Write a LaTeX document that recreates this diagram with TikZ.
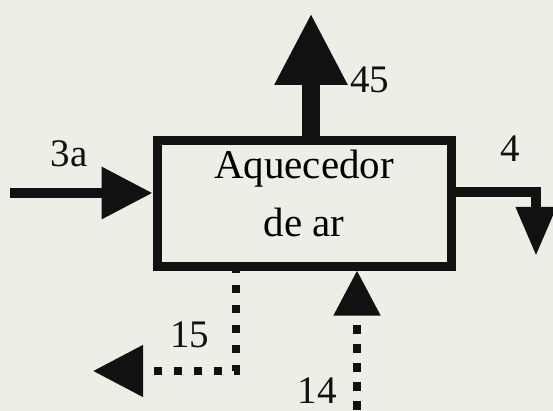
\documentclass[tikz,border=0pt]{standalone}
\usepackage{fontspec}
\setmainfont{Liberation Serif}
\usepackage{xcolor}
\usepackage{tikz}
\usetikzlibrary{arrows.meta,positioning,calc}
\definecolor{paperbg}{HTML}{EDEFE7}
\definecolor{inkblack}{HTML}{111111}

\begin{document}
\begin{tikzpicture}[x=1pt,y=-1pt,
  heaterbox/.style={draw=inkblack, line width=9pt, minimum width=294pt, minimum height=125pt, inner sep=0pt, text depth=21pt, align=center, font=\fontsize{41}{58}\selectfont},
  flowlbl/.style={anchor=base, inner sep=0pt, text=inkblack, font=\fontsize{39}{39}\selectfont},
  solidflow/.style={draw=inkblack, line width=10pt},
  dotflow/.style={draw=inkblack, line width=8pt, dash pattern=on 8pt off 12pt}]
\fill[paperbg] (0,0) rectangle (553,411);
\useasboundingbox (0,0) rectangle (553,411);

\node[heaterbox] (heater) at (304,203.5) {Aquecedor\\de ar};

% free ends of the streams
\coordinate (src3a) at (10,193);
\coordinate (tip45) at (311,13);
\coordinate (out4) at (536,192);
\coordinate (tip4) at (536,256);
\coordinate (corner15) at (236,371);
\coordinate (tip15) at (93,371);
\coordinate (src14) at (357,410);

\draw[solidflow, -{Triangle[length=51pt,width=50pt]}] (src3a) -- (src3a -| heater.west);
\draw[solidflow, line width=18pt, -{Triangle[length=72pt,width=68pt]}] (tip45 |- heater.north) -- (tip45);
\draw[solidflow, line join=miter, -{Triangle[length=49pt,width=38pt]}] (out4 -| heater.east) -- (out4) -- (tip4);
\draw[dotflow, dash phase=5.5pt, -{Triangle[length=50pt,width=50pt]}] (corner15 |- heater.south) -- (corner15) -- (tip15);
\draw[dotflow, dash pattern=on 9pt off 10pt, -{Triangle[length=45pt,width=45pt]}] (src14) -- (src14 |- heater.south);

\node[flowlbl] (lbl3a) at (69,167) {3a};
\node[flowlbl] (lbl45) at (369.5,93) {45};
\node[flowlbl] (lbl4) at (510.5,162) {4};
\node[flowlbl] (lbl15) at (189.5,347) {15};
\node[flowlbl] (lbl14) at (317,403) {14};
\end{tikzpicture}
\end{document}
